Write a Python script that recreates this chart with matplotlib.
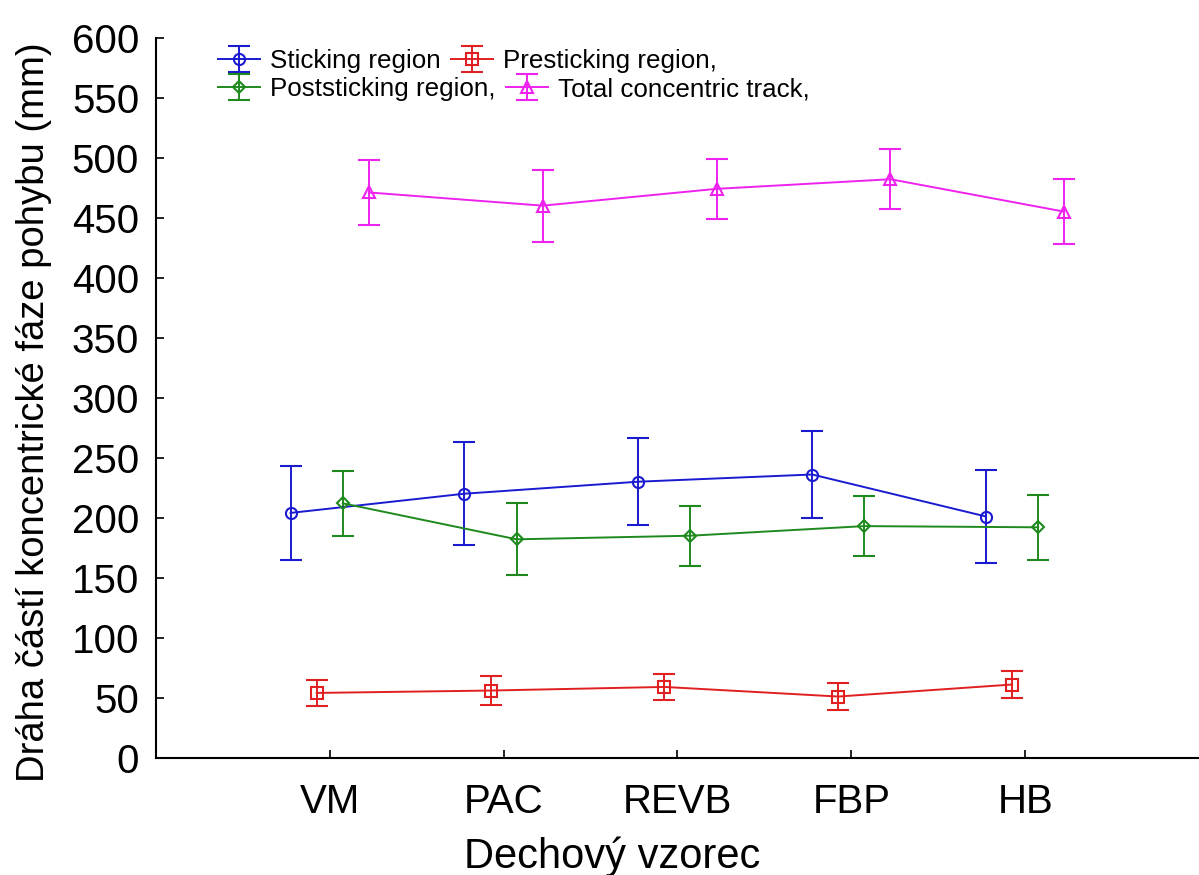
import matplotlib.pyplot as plt
import numpy as np

plt.rcParams['font.family'] = ['Liberation Sans', 'DejaVu Sans']

categories = ["VM", "PAC", "REVB", "FBP", "HB"]

sticking = [204, 220, 230, 236, 201]
sticking_err = [39, 43, 36, 36, 39]
presticking = [54, 56, 59, 51, 61]
presticking_err = [11, 12, 11, 11, 11]
poststicking = [212, 182, 185, 193, 192]
poststicking_err = [27, 30, 25, 25, 27]
total = [471, 460, 474, 482, 455]
total_err = [27, 30, 25, 25, 27]

series = [
    ("Sticking region", sticking, sticking_err, "#1a1ad0", "o", -0.225),
    ("Presticking region,", presticking, presticking_err, "#e02020", "s", -0.075),
    ("Poststicking region,", poststicking, poststicking_err, "#1e8a1e", "D", 0.075),
    ("Total concentric track,", total, total_err, "#ee22ee", "^", 0.225),
]

fig, ax = plt.subplots(figsize=(11.99, 8.75), dpi=100)
fig.subplots_adjust(left=0.13, right=1.0, top=0.957, bottom=0.134)

x = np.arange(1, len(categories) + 1)
handles = []
for label, vals, err, color, marker, off in series:
    ms = 6 if marker == "D" else 8
    h = ax.errorbar(x + off, vals, yerr=err, color=color, marker=marker,
                    markersize=ms, markerfacecolor="none", markeredgewidth=1.5,
                    linewidth=1.4, capsize=8, capthick=1.4, elinewidth=1.4,
                    label=label)
    handles.append(h)

ax.set_xlim(0, 6)
ax.set_ylim(0, 600)
ax.set_yticks(np.arange(0, 601, 50))
ax.set_xticks(x)
ax.set_xticklabels(categories)
ax.tick_params(axis="both", direction="in", labelsize=29, length=6, width=1.2)
ax.tick_params(axis="x", pad=18)
ax.tick_params(axis="y", pad=12)
ax.spines["top"].set_visible(False)
ax.spines["right"].set_visible(False)
ax.spines["left"].set_linewidth(1.5)
ax.spines["bottom"].set_linewidth(1.5)

ax.set_xlabel("Dechový vzorec", fontsize=30)
ax.xaxis.set_label_coords(0.437, -0.109)
ax.set_ylabel("Dráha částí koncentrické fáze pohybu (mm)", fontsize=27.5)
ax.yaxis.set_label_coords(-0.1, 0.48)

# two rows, each its own legend so the entries flow like the original
leg_kw = dict(loc="center left", ncol=2, frameon=False, fontsize=18.7,
              handlelength=1.6, handletextpad=0.4, columnspacing=0.4,
              borderpad=0, borderaxespad=0, bbox_transform=fig.transFigure)
leg1 = ax.legend(handles[:2], [s[0] for s in series[:2]],
                 bbox_to_anchor=(0.182, 0.93), **leg_kw)
ax.add_artist(leg1)
ax.legend([handles[2], handles[3]], [series[2][0], series[3][0]],
          bbox_to_anchor=(0.182, 0.898), **leg_kw)

fig.savefig("out.png", dpi=100)
